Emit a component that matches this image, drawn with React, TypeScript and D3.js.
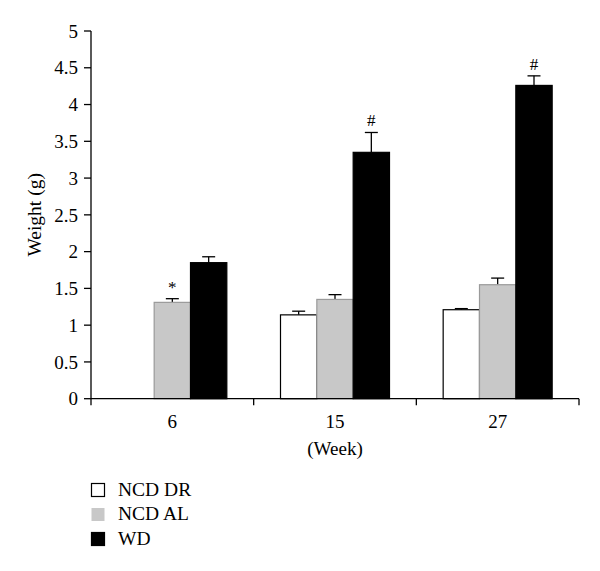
import React from "react";
import * as d3 from "d3";

const weeks = ["6", "15", "27"];
const series = ["NCD DR", "NCD AL", "WD"];
const seriesFill = ["#ffffff", "#c8c8c8", "#000000"];
const seriesStroke = ["#000000", "#9a9a9a", "#000000"];
// values per series, per week (null = not measured)
const ncdDR: (number | null)[] = [null, 1.14, 1.21];
const ncdAL: (number | null)[] = [1.31, 1.35, 1.55];
const wd: (number | null)[] = [1.85, 3.35, 4.26];
const ncdDRErr: (number | null)[] = [null, 0.05, 0.015];
const ncdALErr: (number | null)[] = [0.05, 0.065, 0.09];
const wdErr: (number | null)[] = [0.08, 0.27, 0.13];
const marks: { series: number; week: number; text: string }[] = [
  { series: 1, week: 0, text: "*" },
  { series: 2, week: 1, text: "#" },
  { series: 2, week: 2, text: "#" },
];
const yTicks = [0, 0.5, 1, 1.5, 2, 2.5, 3, 3.5, 4, 4.5, 5];

const values = [ncdDR, ncdAL, wd];
const errors = [ncdDRErr, ncdALErr, wdErr];

const ts: React.CSSProperties = { fontFamily: "'Liberation Serif', 'Times New Roman', serif" };

export default function App() {
  const left = 91;
  const right = 579;
  const top = 31;
  const bottom = 398.7;
  const x = d3.scaleBand<string>().domain(weeks).range([left, right]);
  const y = d3.scaleLinear().domain([0, 5]).range([bottom, top]);
  const groupW = 109;
  const xs = d3.scaleBand<string>().domain(series).range([-groupW / 2, groupW / 2]);
  const bw = xs.bandwidth();
  const boundaries = [...weeks.map((w) => x(w)!), right];

  return (
    <svg
      width={600}
      height={571}
      style={{ position: "absolute", left: 0, top: 0, background: "#fff" }}
    >
      <rect width={600} height={571} fill="#fff" />
      {/* bars */}
      {series.map((s, si) =>
        weeks.map((w, wi) => {
          const v = values[si][wi];
          if (v == null) return null;
          const cx = x(w)! + x.bandwidth() / 2;
          const x0 = cx + xs(s)!;
          const e = errors[si][wi] ?? 0;
          const xm = x0 + bw / 2;
          return (
            <g key={s + w}>
              <line x1={xm} x2={xm} y1={y(v)} y2={y(v + e)} stroke="#000" strokeWidth={1.3} />
              <line x1={xm - 6.5} x2={xm + 6.5} y1={y(v + e)} y2={y(v + e)} stroke="#000" strokeWidth={1.3} />
              <rect
                x={x0}
                y={y(v)}
                width={bw}
                height={bottom - y(v)}
                fill={seriesFill[si]}
                stroke={seriesStroke[si]}
                strokeWidth={1.2}
              />
            </g>
          );
        })
      )}
      {/* significance marks */}
      {marks.map((m, i) => {
        const s = series[m.series];
        const w = weeks[m.week];
        const v = (values[m.series][m.week] ?? 0) + (errors[m.series][m.week] ?? 0);
        const cx = x(w)! + x.bandwidth() / 2 + xs(s)! + bw / 2;
        return (
          <text key={i} x={cx} y={y(v) - 6} textAnchor="middle" fontSize={17} fill="#000" style={ts}>
            {m.text}
          </text>
        );
      })}
      {/* y axis */}
      <line x1={left} x2={left} y1={top} y2={bottom} stroke="#000" strokeWidth={1.3} />
      {yTicks.map((t) => (
        <g key={t}>
          <line x1={left - 7} x2={left} y1={y(t)} y2={y(t)} stroke="#000" strokeWidth={1.3} />
          <text x={left - 13} y={y(t)} dy="0.35em" textAnchor="end" fontSize={19} fill="#000" style={ts}>
            {String(t)}
          </text>
        </g>
      ))}
      {/* x axis */}
      <line x1={left} x2={right} y1={bottom} y2={bottom} stroke="#000" strokeWidth={1.3} />
      {boundaries.map((b, i) => (
        <line key={i} x1={b} x2={b} y1={bottom} y2={bottom + 6.5} stroke="#000" strokeWidth={1.3} />
      ))}
      {weeks.map((w) => (
        <text key={w} x={x(w)! + x.bandwidth() / 2} y={427.5} textAnchor="middle" fontSize={19} fill="#000" style={ts}>
          {w}
        </text>
      ))}
      <text x={x("15")! + x.bandwidth() / 2} y={455} textAnchor="middle" fontSize={19} fill="#000" style={ts}>
        (Week)
      </text>
      <text
        transform={`translate(41, ${(top + bottom) / 2}) rotate(-90)`}
        textAnchor="middle"
        fontSize={19.5}
        fill="#000"
        style={ts}
      >
        Weight (g)
      </text>
      {/* legend */}
      {series.map((s, i) => (
        <g key={s} transform={`translate(91, ${483 + i * 24.5})`}>
          <rect
            x={0.5}
            y={0.5}
            width={13}
            height={13}
            fill={seriesFill[i]}
            stroke={i === 1 ? "none" : "#000"}
            strokeWidth={1.2}
          />
          <text x={27} y={12.5} fontSize={19.5} fill="#000" style={ts}>
            {s}
          </text>
        </g>
      ))}
    </svg>
  );
}
